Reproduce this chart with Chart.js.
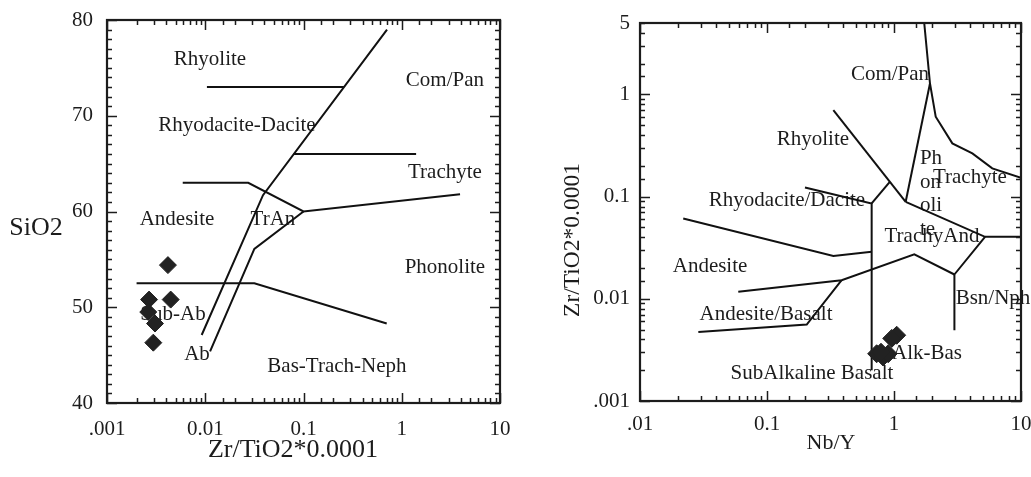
<!DOCTYPE html>
<html><head><meta charset="utf-8">
<script src="https://cdn.jsdelivr.net/npm/chart.js@4.4.0/dist/chart.umd.min.js"></script>
<style>
html,body{margin:0;padding:0;background:#fff;}
#wrap{position:relative;width:1031px;height:477px;overflow:hidden;background:#fff;}
.box{position:absolute;top:0;height:477px;}
#b1{left:0;width:520px;}
#b2{left:520px;width:511px;}
</style></head><body>
<div id="wrap">
  <div class="box" id="b1"><canvas id="c1"></canvas></div>
  <div class="box" id="b2"><canvas id="c2"></canvas></div>
</div>
<script>
// ---------- Left diagram: SiO2 vs Zr/TiO2*0.0001 ----------
const leftXTicks  = [0.001, 0.01, 0.1, 1, 10];
const leftXLabels = ['.001', '0.01', '0.1', '1', '10'];
const leftYTicks  = [40, 50, 60, 70, 80];
const leftYLabels = ['40', '50', '60', '70', '80'];

const leftSampleX = [0.00417, 0.00268, 0.00445, 0.00263, 0.00308, 0.00296];
const leftSampleY = [54.4, 50.8, 50.8, 49.5, 48.3, 46.3];

const leftBoundaries = [
  [[0.0104, 73], [0.258, 73]],
  [[0.708, 79], [0.0387, 61.7], [0.0092, 47.1]],
  [[0.079, 66], [1.4, 66]],
  [[0.0059, 63], [0.0274, 63], [0.1, 60], [3.92, 61.8]],
  [[0.1, 60], [0.0316, 56.1], [0.0112, 45.4]],
  [[0.002, 52.5], [0.0316, 52.5], [0.703, 48.3]]
];

const leftFieldNames = ['Rhyolite', 'Com/Pan', 'Rhyodacite-Dacite', 'Trachyte', 'Andesite', 'TrAn', 'Phonolite', 'Sub-Ab', 'Ab', 'Bas-Trach-Neph'];
const leftFieldX = [0.01117, 2.75, 0.021, 2.75, 0.00516, 0.0489, 2.75, 0.0047, 0.00824, 0.219];
const leftFieldY = [75.9, 73.7, 69.0, 64.1, 59.2, 59.2, 54.2, 49.2, 45.1, 43.8];

// ---------- Right diagram: Zr/TiO2*0.0001 vs Nb/Y ----------
const rightXTicks  = [0.01, 0.1, 1, 10];
const rightXLabels = ['.01', '0.1', '1', '10'];
const rightYTicks  = [0.001, 0.01, 0.1, 1, 5];
const rightYLabels = ['.001', '0.01', '0.1', '1', '5'];

const rightSampleX = [1.05, 0.96, 0.73, 0.82, 0.90, 0.79];
const rightSampleY = [0.0044, 0.0041, 0.0029, 0.0027, 0.0029, 0.0030];

const rightBoundaries = [
  [[1.73, 5], [1.92, 1.28], [2.13, 0.605], [2.88, 0.332], [4.14, 0.265], [5.94, 0.189], [10, 0.153]],
  [[1.236, 0.089], [1.92, 1.28]],
  [[0.333, 0.703], [1.236, 0.089]],
  [[0.93, 0.14], [0.667, 0.0857]],
  [[0.199, 0.123], [0.667, 0.0857], [0.667, 0.002]],
  [[1.236, 0.089], [5.21, 0.0404], [10, 0.0404]],
  [[5.21, 0.0404], [2.99, 0.0173], [2.99, 0.00493]],
  [[0.0594, 0.0117], [0.387, 0.0152], [1.445, 0.0273], [2.99, 0.0173]],
  [[0.0288, 0.00474], [0.2055, 0.0056], [0.387, 0.0152]],
  [[0.0219, 0.0612], [0.333, 0.0263], [0.667, 0.0288]]
];

const rightFieldNames = ['Com/Pan', 'Rhyolite', 'Rhyodacite/Dacite', 'Ph', 'on', 'oli', 'te', 'Trachyte', 'TrachyAnd', 'Andesite', 'Andesite/Basalt', 'Bsn/Nph', 'Alk-Bas', 'SubAlkaline Basalt'];
const rightFieldX = [0.93, 0.23, 0.1437, 1.60, 1.60, 1.60, 1.60, 3.96, 1.99, 0.0356, 0.0982, 6.02, 1.82, 0.226];
const rightFieldY = [1.55, 0.366, 0.0924, 0.238, 0.139, 0.0826, 0.0481, 0.155, 0.041, 0.0209, 0.00706, 0.01014, 0.00293, 0.00187];
const rightFieldAlign = ['center', 'center', 'center', 'left', 'left', 'left', 'left', 'center', 'center', 'center', 'center', 'center', 'center', 'center'];

// ---------- helpers ----------
const SERIF = "'Liberation Serif', 'Times New Roman', serif";
const INK = '#1c1c1c';

function near(a, b) { return Math.abs(a - b) <= Math.abs(b) * 1e-6 + 1e-12; }
function labelFor(vals, labels) {
  return function (v) {
    const i = vals.findIndex(t => near(v, t));
    return i >= 0 ? labels[i] : '';
  };
}
function isDecade(v) { const l = Math.log10(v); return Math.abs(l - Math.round(l)) < 1e-6; }

const frameTicks = {
  id: 'frameTicks',
  afterDraw(chart, args, o) {
    const { ctx, chartArea: a } = chart;
    const sx = chart.scales.x, sy = chart.scales.y;
    ctx.save();
    ctx.strokeStyle = INK;
    ctx.lineWidth = 1.5;
    ctx.beginPath();
    sx.ticks.forEach(t => {
      const p = Math.round(sx.getPixelForValue(t.value)) + 0.5;
      if (p < a.left - 1 || p > a.right + 1) return;
      const L = o.majorX(t.value) ? 10 : 5;
      ctx.moveTo(p, a.top); ctx.lineTo(p, a.top + L);
      ctx.moveTo(p, a.bottom); ctx.lineTo(p, a.bottom - L);
    });
    sy.ticks.forEach(t => {
      const p = Math.round(sy.getPixelForValue(t.value)) + 0.5;
      if (p < a.top - 1 || p > a.bottom + 1) return;
      const L = o.majorY(t.value) ? 10 : 5;
      ctx.moveTo(a.left, p); ctx.lineTo(a.left + L, p);
      ctx.moveTo(a.right, p); ctx.lineTo(a.right - L, p);
    });
    ctx.stroke();
    ctx.lineWidth = 2.2;
    ctx.strokeRect(a.left, a.top, a.right - a.left, a.bottom - a.top);
    // axis titles
    ctx.fillStyle = INK;
    ctx.textBaseline = 'middle';
    o.titles.forEach(tt => {
      ctx.save();
      ctx.font = tt.size + 'px ' + SERIF;
      ctx.textAlign = 'center';
      ctx.translate(a.left + tt.dx, a.top + tt.dy);
      if (tt.rot) ctx.rotate(tt.rot);
      ctx.fillText(tt.text, 0, 0);
      ctx.restore();
    });
    ctx.restore();
  },
  beforeDatasetsDraw(chart, args, o) {
    const { ctx } = chart;
    const sx = chart.scales.x, sy = chart.scales.y;
    ctx.save();
    ctx.fillStyle = INK;
    ctx.font = '21px ' + SERIF;
    ctx.textBaseline = 'middle';
    o.names.forEach((n, i) => {
      ctx.textAlign = o.align ? o.align[i] : 'center';
      ctx.fillText(n, sx.getPixelForValue(o.xs[i]), sy.getPixelForValue(o.ys[i]));
    });
    ctx.restore();
  }
};

function lineSets(bounds) {
  return bounds.map(b => ({
    type: 'line',
    data: b.map(p => ({ x: p[0], y: p[1] })),
    borderColor: '#111',
    borderWidth: 2,
    pointRadius: 0,
    fill: false,
    tension: 0,
    showLine: true,
    order: 2
  }));
}
function sampleSet(xs, ys, r) {
  return {
    type: 'scatter',
    data: xs.map((x, i) => ({ x: x, y: ys[i] })),
    pointStyle: 'rectRot',
    pointRadius: r,
    backgroundColor: '#222',
    borderColor: '#222',
    borderWidth: 1,
    order: 1
  };
}
function tickFont() { return { family: SERIF, size: 21 }; }
function fitX(h) { return s => { s.height = h; s.paddingLeft = 0; s.paddingRight = 0; }; }
function fitY(w) { return s => { s.width = w; s.paddingTop = 0; s.paddingBottom = 0; }; }

Chart.defaults.font.family = SERIF;
Chart.defaults.color = INK;

new Chart(document.getElementById('c1'), {
  type: 'scatter',
  data: { datasets: [...lineSets(leftBoundaries), sampleSet(leftSampleX, leftSampleY, 8.5)] },
  options: {
    responsive: true, maintainAspectRatio: false, animation: false,
    layout: { padding: { top: 20, right: 20, left: 0, bottom: 0 } },
    plugins: {
      legend: { display: false }, tooltip: { enabled: false },
      frameTicks: {
        majorX: isDecade,
        majorY: v => v % 10 === 0,
        names: leftFieldNames, xs: leftFieldX, ys: leftFieldY,
        titles: [
          { text: 'SiO2', size: 26, dx: -71, dy: 208 },
          { text: 'Zr/TiO2*0.0001', size: 26, dx: 186, dy: 430 }
        ]
      }
    },
    scales: {
      x: {
        type: 'logarithmic', position: 'bottom', min: 0.001, max: 10,
        grid: { display: false, drawTicks: false }, border: { display: false },
        ticks: { autoSkip: false, maxRotation: 0, minRotation: 0, padding: 14, font: tickFont(), callback: labelFor(leftXTicks, leftXLabels) },
        afterFit: fitX(74)
      },
      y: {
        type: 'linear', position: 'left', min: 40, max: 80,
        grid: { display: false, drawTicks: false }, border: { display: false },
        ticks: { stepSize: 1, autoSkip: false, padding: 14, font: tickFont(), callback: labelFor(leftYTicks, leftYLabels) },
        afterFit: fitY(107)
      }
    }
  },
  plugins: [frameTicks]
});

new Chart(document.getElementById('c2'), {
  type: 'scatter',
  data: { datasets: [...lineSets(rightBoundaries), sampleSet(rightSampleX, rightSampleY, 9)] },
  options: {
    responsive: true, maintainAspectRatio: false, animation: false,
    layout: { padding: { top: 23, right: 10, left: 0, bottom: 0 } },
    plugins: {
      legend: { display: false }, tooltip: { enabled: false },
      frameTicks: {
        majorX: isDecade,
        majorY: isDecade,
        names: rightFieldNames, xs: rightFieldX, ys: rightFieldY, align: rightFieldAlign,
        titles: [
          { text: 'Zr/TiO2*0.0001', size: 23.5, dx: -67, dy: 217, rot: -Math.PI / 2 },
          { text: 'Nb/Y', size: 22, dx: 191, dy: 420 }
        ]
      }
    },
    scales: {
      x: {
        type: 'logarithmic', position: 'bottom', min: 0.01, max: 10,
        grid: { display: false, drawTicks: false }, border: { display: false },
        ticks: { autoSkip: false, maxRotation: 0, minRotation: 0, padding: 11, font: tickFont(), callback: labelFor(rightXTicks, rightXLabels) },
        afterFit: fitX(76)
      },
      y: {
        type: 'logarithmic', position: 'left', min: 0.001, max: 5,
        grid: { display: false, drawTicks: false }, border: { display: false },
        ticks: { autoSkip: false, padding: 10, font: tickFont(), callback: labelFor(rightYTicks, rightYLabels) },
        afterFit: fitY(120)
      }
    }
  },
  plugins: [frameTicks]
});
</script>
</body></html>
